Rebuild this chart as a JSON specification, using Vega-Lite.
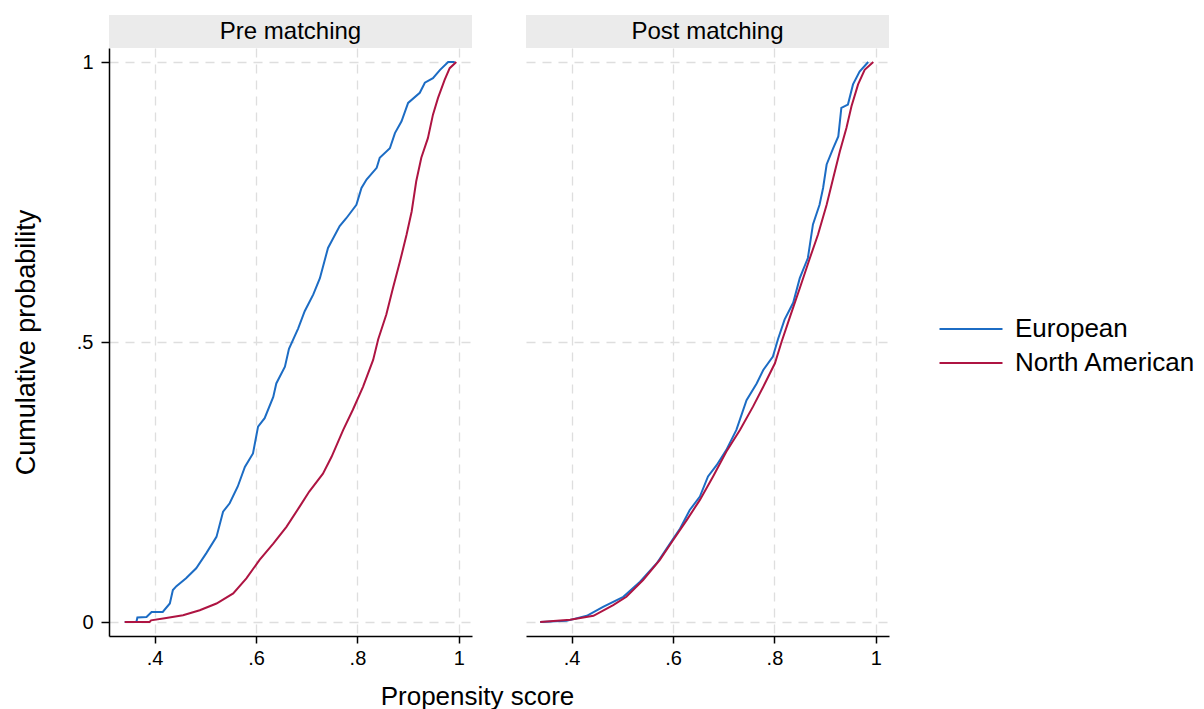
{
  "$schema": "https://vega.github.io/schema/vega-lite/v6.json",
  "padding": {"left": 12, "top": 15, "right": 5, "bottom": 0},
  "background": "white",
  "bounds": "flush",
  "columns": 2,
  "spacing": {"row": 0, "column": 54},
  "config": {
    "font": "Liberation Sans",
    "view": {"stroke": null},
    "axis": {
      "labelFont": "Liberation Sans",
      "titleFont": "Liberation Sans",
      "labelColor": "black",
      "titleColor": "black",
      "titleFontWeight": "normal",
      "domainColor": "black",
      "domainWidth": 1.5,
      "tickColor": "black",
      "tickWidth": 1.5,
      "gridColor": "#dedede",
      "gridWidth": 1.3,
      "gridDash": [9, 7]
    },
    "legend": {
      "labelFont": "Liberation Sans",
      "labelColor": "black"
    }
  },
  "datasets": {
    "curves": [
      {"panel": "Pre", "group": "European", "x": 0.341, "y": 0.0},
      {"panel": "Pre", "group": "European", "x": 0.364, "y": 0.0},
      {"panel": "Pre", "group": "European", "x": 0.366, "y": 0.008},
      {"panel": "Pre", "group": "European", "x": 0.384, "y": 0.009},
      {"panel": "Pre", "group": "European", "x": 0.394, "y": 0.018},
      {"panel": "Pre", "group": "European", "x": 0.416, "y": 0.018},
      {"panel": "Pre", "group": "European", "x": 0.430, "y": 0.033},
      {"panel": "Pre", "group": "European", "x": 0.436, "y": 0.057},
      {"panel": "Pre", "group": "European", "x": 0.443, "y": 0.064},
      {"panel": "Pre", "group": "European", "x": 0.462, "y": 0.078},
      {"panel": "Pre", "group": "European", "x": 0.482, "y": 0.096},
      {"panel": "Pre", "group": "European", "x": 0.502, "y": 0.123},
      {"panel": "Pre", "group": "European", "x": 0.522, "y": 0.152},
      {"panel": "Pre", "group": "European", "x": 0.535, "y": 0.197},
      {"panel": "Pre", "group": "European", "x": 0.548, "y": 0.212},
      {"panel": "Pre", "group": "European", "x": 0.564, "y": 0.242},
      {"panel": "Pre", "group": "European", "x": 0.578, "y": 0.277},
      {"panel": "Pre", "group": "European", "x": 0.594, "y": 0.301},
      {"panel": "Pre", "group": "European", "x": 0.604, "y": 0.349},
      {"panel": "Pre", "group": "European", "x": 0.617, "y": 0.364},
      {"panel": "Pre", "group": "European", "x": 0.634, "y": 0.402},
      {"panel": "Pre", "group": "European", "x": 0.640, "y": 0.426},
      {"panel": "Pre", "group": "European", "x": 0.657, "y": 0.456},
      {"panel": "Pre", "group": "European", "x": 0.665, "y": 0.488},
      {"panel": "Pre", "group": "European", "x": 0.683, "y": 0.524},
      {"panel": "Pre", "group": "European", "x": 0.696, "y": 0.555},
      {"panel": "Pre", "group": "European", "x": 0.713, "y": 0.585},
      {"panel": "Pre", "group": "European", "x": 0.726, "y": 0.614},
      {"panel": "Pre", "group": "European", "x": 0.742, "y": 0.668},
      {"panel": "Pre", "group": "European", "x": 0.765, "y": 0.707},
      {"panel": "Pre", "group": "European", "x": 0.778, "y": 0.721},
      {"panel": "Pre", "group": "European", "x": 0.798, "y": 0.745},
      {"panel": "Pre", "group": "European", "x": 0.808, "y": 0.775},
      {"panel": "Pre", "group": "European", "x": 0.818, "y": 0.790},
      {"panel": "Pre", "group": "European", "x": 0.838, "y": 0.811},
      {"panel": "Pre", "group": "European", "x": 0.844, "y": 0.829},
      {"panel": "Pre", "group": "European", "x": 0.864, "y": 0.846},
      {"panel": "Pre", "group": "European", "x": 0.874, "y": 0.873},
      {"panel": "Pre", "group": "European", "x": 0.887, "y": 0.894},
      {"panel": "Pre", "group": "European", "x": 0.900, "y": 0.927},
      {"panel": "Pre", "group": "European", "x": 0.923, "y": 0.945},
      {"panel": "Pre", "group": "European", "x": 0.933, "y": 0.963},
      {"panel": "Pre", "group": "European", "x": 0.949, "y": 0.971},
      {"panel": "Pre", "group": "European", "x": 0.963, "y": 0.986},
      {"panel": "Pre", "group": "European", "x": 0.979, "y": 1.0},
      {"panel": "Pre", "group": "European", "x": 0.992, "y": 1.0},

      {"panel": "Pre", "group": "North American", "x": 0.341, "y": 0.0},
      {"panel": "Pre", "group": "North American", "x": 0.390, "y": 0.0},
      {"panel": "Pre", "group": "North American", "x": 0.393, "y": 0.003},
      {"panel": "Pre", "group": "North American", "x": 0.423, "y": 0.007},
      {"panel": "Pre", "group": "North American", "x": 0.456, "y": 0.012},
      {"panel": "Pre", "group": "North American", "x": 0.489, "y": 0.021},
      {"panel": "Pre", "group": "North American", "x": 0.522, "y": 0.033},
      {"panel": "Pre", "group": "North American", "x": 0.555, "y": 0.051},
      {"panel": "Pre", "group": "North American", "x": 0.581, "y": 0.078},
      {"panel": "Pre", "group": "North American", "x": 0.607, "y": 0.111},
      {"panel": "Pre", "group": "North American", "x": 0.634, "y": 0.140},
      {"panel": "Pre", "group": "North American", "x": 0.660, "y": 0.170},
      {"panel": "Pre", "group": "North American", "x": 0.686, "y": 0.206},
      {"panel": "Pre", "group": "North American", "x": 0.705, "y": 0.233},
      {"panel": "Pre", "group": "North American", "x": 0.732, "y": 0.265},
      {"panel": "Pre", "group": "North American", "x": 0.749, "y": 0.295},
      {"panel": "Pre", "group": "North American", "x": 0.772, "y": 0.343},
      {"panel": "Pre", "group": "North American", "x": 0.791, "y": 0.379},
      {"panel": "Pre", "group": "North American", "x": 0.811, "y": 0.420},
      {"panel": "Pre", "group": "North American", "x": 0.831, "y": 0.468},
      {"panel": "Pre", "group": "North American", "x": 0.841, "y": 0.505},
      {"panel": "Pre", "group": "North American", "x": 0.857, "y": 0.549},
      {"panel": "Pre", "group": "North American", "x": 0.870, "y": 0.596},
      {"panel": "Pre", "group": "North American", "x": 0.884, "y": 0.644},
      {"panel": "Pre", "group": "North American", "x": 0.897, "y": 0.692},
      {"panel": "Pre", "group": "North American", "x": 0.907, "y": 0.733},
      {"panel": "Pre", "group": "North American", "x": 0.916, "y": 0.787},
      {"panel": "Pre", "group": "North American", "x": 0.926, "y": 0.829},
      {"panel": "Pre", "group": "North American", "x": 0.939, "y": 0.864},
      {"panel": "Pre", "group": "North American", "x": 0.949, "y": 0.906},
      {"panel": "Pre", "group": "North American", "x": 0.959, "y": 0.936},
      {"panel": "Pre", "group": "North American", "x": 0.972, "y": 0.968},
      {"panel": "Pre", "group": "North American", "x": 0.982, "y": 0.989},
      {"panel": "Pre", "group": "North American", "x": 0.995, "y": 1.0},

      {"panel": "Post", "group": "European", "x": 0.338, "y": 0.0},
      {"panel": "Post", "group": "European", "x": 0.390, "y": 0.002},
      {"panel": "Post", "group": "European", "x": 0.430, "y": 0.011},
      {"panel": "Post", "group": "European", "x": 0.462, "y": 0.027},
      {"panel": "Post", "group": "European", "x": 0.502, "y": 0.045},
      {"panel": "Post", "group": "European", "x": 0.535, "y": 0.072},
      {"panel": "Post", "group": "European", "x": 0.568, "y": 0.105},
      {"panel": "Post", "group": "European", "x": 0.594, "y": 0.140},
      {"panel": "Post", "group": "European", "x": 0.614, "y": 0.167},
      {"panel": "Post", "group": "European", "x": 0.633, "y": 0.200},
      {"panel": "Post", "group": "European", "x": 0.653, "y": 0.224},
      {"panel": "Post", "group": "European", "x": 0.669, "y": 0.260},
      {"panel": "Post", "group": "European", "x": 0.686, "y": 0.280},
      {"panel": "Post", "group": "European", "x": 0.705, "y": 0.307},
      {"panel": "Post", "group": "European", "x": 0.725, "y": 0.343},
      {"panel": "Post", "group": "European", "x": 0.745, "y": 0.396},
      {"panel": "Post", "group": "European", "x": 0.765, "y": 0.426},
      {"panel": "Post", "group": "European", "x": 0.778, "y": 0.450},
      {"panel": "Post", "group": "European", "x": 0.797, "y": 0.474},
      {"panel": "Post", "group": "European", "x": 0.807, "y": 0.505},
      {"panel": "Post", "group": "European", "x": 0.820, "y": 0.540},
      {"panel": "Post", "group": "European", "x": 0.837, "y": 0.570},
      {"panel": "Post", "group": "European", "x": 0.850, "y": 0.614},
      {"panel": "Post", "group": "European", "x": 0.866, "y": 0.650},
      {"panel": "Post", "group": "European", "x": 0.876, "y": 0.710},
      {"panel": "Post", "group": "European", "x": 0.889, "y": 0.745},
      {"panel": "Post", "group": "European", "x": 0.896, "y": 0.775},
      {"panel": "Post", "group": "European", "x": 0.903, "y": 0.817},
      {"panel": "Post", "group": "European", "x": 0.916, "y": 0.846},
      {"panel": "Post", "group": "European", "x": 0.926, "y": 0.867},
      {"panel": "Post", "group": "European", "x": 0.932, "y": 0.918},
      {"panel": "Post", "group": "European", "x": 0.945, "y": 0.924},
      {"panel": "Post", "group": "European", "x": 0.955, "y": 0.960},
      {"panel": "Post", "group": "European", "x": 0.968, "y": 0.983},
      {"panel": "Post", "group": "European", "x": 0.985, "y": 1.0},

      {"panel": "Post", "group": "North American", "x": 0.338, "y": 0.0},
      {"panel": "Post", "group": "North American", "x": 0.397, "y": 0.004},
      {"panel": "Post", "group": "North American", "x": 0.443, "y": 0.011},
      {"panel": "Post", "group": "North American", "x": 0.482, "y": 0.030},
      {"panel": "Post", "group": "North American", "x": 0.508, "y": 0.045},
      {"panel": "Post", "group": "North American", "x": 0.541, "y": 0.075},
      {"panel": "Post", "group": "North American", "x": 0.574, "y": 0.111},
      {"panel": "Post", "group": "North American", "x": 0.600, "y": 0.146},
      {"panel": "Post", "group": "North American", "x": 0.627, "y": 0.182},
      {"panel": "Post", "group": "North American", "x": 0.653, "y": 0.218},
      {"panel": "Post", "group": "North American", "x": 0.679, "y": 0.260},
      {"panel": "Post", "group": "North American", "x": 0.705, "y": 0.304},
      {"panel": "Post", "group": "North American", "x": 0.732, "y": 0.343},
      {"panel": "Post", "group": "North American", "x": 0.758, "y": 0.385},
      {"panel": "Post", "group": "North American", "x": 0.778, "y": 0.420},
      {"panel": "Post", "group": "North American", "x": 0.801, "y": 0.462},
      {"panel": "Post", "group": "North American", "x": 0.814, "y": 0.500},
      {"panel": "Post", "group": "North American", "x": 0.830, "y": 0.543},
      {"panel": "Post", "group": "North American", "x": 0.850, "y": 0.596},
      {"panel": "Post", "group": "North American", "x": 0.870, "y": 0.650},
      {"panel": "Post", "group": "North American", "x": 0.886, "y": 0.692},
      {"panel": "Post", "group": "North American", "x": 0.903, "y": 0.745},
      {"panel": "Post", "group": "North American", "x": 0.916, "y": 0.793},
      {"panel": "Post", "group": "North American", "x": 0.929, "y": 0.840},
      {"panel": "Post", "group": "North American", "x": 0.942, "y": 0.882},
      {"panel": "Post", "group": "North American", "x": 0.952, "y": 0.921},
      {"panel": "Post", "group": "North American", "x": 0.965, "y": 0.960},
      {"panel": "Post", "group": "North American", "x": 0.978, "y": 0.986},
      {"panel": "Post", "group": "North American", "x": 0.995, "y": 1.0}
    ]
  },
  "concat": [
    {
      "data": {"values": [{"label": "Pre matching"}]},
      "width": 363,
      "height": 33,
      "view": {"fill": "#ebebeb", "stroke": null},
      "mark": {"type": "text", "fontSize": 24, "font": "Liberation Sans", "color": "black"},
      "encoding": {"text": {"field": "label"}}
    },
    {
      "data": {"values": [{"label": "Post matching"}]},
      "width": 363,
      "height": 33,
      "view": {"fill": "#ebebeb", "stroke": null},
      "mark": {"type": "text", "fontSize": 24, "font": "Liberation Sans", "color": "black"},
      "encoding": {"text": {"field": "label"}}
    },
    {
      "data": {"name": "curves"},
      "transform": [{"filter": "datum.panel == 'Pre'"}],
      "width": 363,
      "height": 588,
      "mark": {"type": "line", "strokeWidth": 2, "interpolate": "linear"},
      "encoding": {
        "x": {
          "field": "x", "type": "quantitative",
          "scale": {"domain": [0.31, 1.026], "nice": false, "zero": false},
          "axis": {
            "values": [0.4, 0.6, 0.8, 1],
            "labelExpr": "datum.value == 1 ? '1' : replace(format(datum.value, '.1f'), '0.', '.')",
            "labelFontSize": 20,
            "labelPadding": 5,
            "tickSize": 7,
            "title": "Propensity score",
            "titleFontSize": 26,
            "titleX": 368,
            "titleY": 47,
            "titleBaseline": "top",
            "grid": true
          }
        },
        "y": {
          "field": "y", "type": "quantitative",
          "scale": {"domain": [-0.025, 1.025], "nice": false, "zero": false},
          "axis": {
            "values": [0, 0.5, 1],
            "labelExpr": "datum.value == 0 ? '0' : datum.value == 1 ? '1' : '.5'",
            "labelFontSize": 20,
            "labelPadding": 8,
            "tickSize": 8,
            "title": "Cumulative probability",
            "titleFontSize": 27,
            "titlePadding": 36,
            "grid": true
          }
        },
        "color": {
          "field": "group", "type": "nominal",
          "scale": {"domain": ["European", "North American"], "range": ["#1c6cc4", "#ae1442"]},
          "legend": {
            "title": null,
            "orient": "none",
            "legendX": 828,
            "legendY": 301,
            "padding": 0,
            "symbolType": "M-3,0H3",
            "symbolSize": 441,
            "symbolOffset": 21,
            "symbolStrokeWidth": 2,
            "labelFontSize": 26,
            "labelLimit": 400,
            "labelOffset": 31,
            "rowPadding": 8
          }
        }
      }
    },
    {
      "data": {"name": "curves"},
      "transform": [{"filter": "datum.panel == 'Post'"}],
      "width": 363,
      "height": 588,
      "mark": {"type": "line", "strokeWidth": 2, "interpolate": "linear"},
      "encoding": {
        "x": {
          "field": "x", "type": "quantitative",
          "scale": {"domain": [0.31, 1.026], "nice": false, "zero": false},
          "axis": {
            "values": [0.4, 0.6, 0.8, 1],
            "labelExpr": "datum.value == 1 ? '1' : replace(format(datum.value, '.1f'), '0.', '.')",
            "labelFontSize": 20,
            "labelPadding": 5,
            "tickSize": 7,
            "title": null,
            "grid": true
          }
        },
        "y": {
          "field": "y", "type": "quantitative",
          "scale": {"domain": [-0.025, 1.025], "nice": false, "zero": false},
          "axis": {
            "values": [0, 0.5, 1],
            "labels": false,
            "ticks": false,
            "domain": false,
            "title": null,
            "grid": true
          }
        },
        "color": {
          "field": "group", "type": "nominal",
          "scale": {"domain": ["European", "North American"], "range": ["#1c6cc4", "#ae1442"]}
        }
      }
    }
  ]
}
